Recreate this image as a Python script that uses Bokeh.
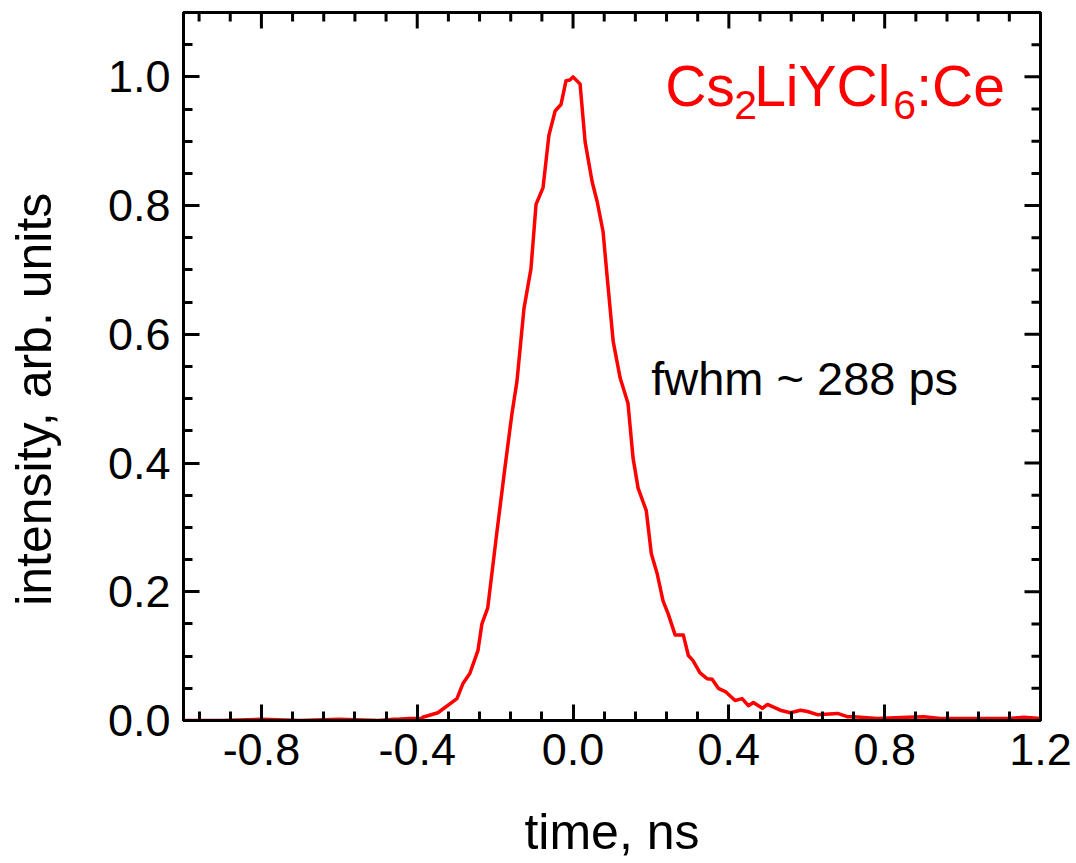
import math
from bokeh.plotting import figure
from bokeh.models import Range1d, LinearAxis, FixedTicker, CustomJSTickFormatter, Label
from bokeh.embed import file_html
from bokeh.resources import INLINE

time_ns = [-1.0, -0.90, -0.80, -0.70, -0.60, -0.50, -0.46, -0.45, -0.42, -0.39,
           -0.386, -0.347, -0.298, -0.283, -0.265, -0.244, -0.234, -0.219, -0.195, -0.175,
           -0.157, -0.144, -0.126, -0.108, -0.095, -0.077, -0.062, -0.046, -0.031, -0.018,
           -0.008, 0.0, 0.018, 0.031, 0.049, 0.062, 0.077, 0.087, 0.103, 0.121,
           0.141, 0.154, 0.167, 0.188, 0.201, 0.216, 0.231, 0.244, 0.262, 0.283,
           0.296, 0.308, 0.326, 0.344, 0.357, 0.373, 0.391, 0.416, 0.434, 0.450,
           0.463, 0.486, 0.499, 0.532, 0.558, 0.584, 0.602, 0.627, 0.679, 0.704,
           0.720, 0.781, 0.859, 0.900, 0.943, 1.028, 1.116, 1.157, 1.200]
intensity = [0.0, 0.0, 0.002, 0.0, 0.002, 0.0, 0.002, 0.002, 0.003, 0.003,
             0.005, 0.012, 0.034, 0.057, 0.073, 0.109, 0.150, 0.175, 0.295, 0.392,
             0.476, 0.527, 0.640, 0.702, 0.802, 0.828, 0.909, 0.947, 0.957, 0.994,
             0.995, 1.0, 0.989, 0.899, 0.837, 0.806, 0.760, 0.693, 0.589, 0.532,
             0.493, 0.408, 0.361, 0.326, 0.259, 0.228, 0.186, 0.166, 0.133, 0.133,
             0.101, 0.093, 0.074, 0.065, 0.064, 0.050, 0.045, 0.031, 0.034, 0.023,
             0.028, 0.019, 0.025, 0.016, 0.012, 0.016, 0.014, 0.009, 0.011, 0.006,
             0.006, 0.003, 0.005, 0.006, 0.003, 0.003, 0.003, 0.005, 0.003]

x_ticks = [-0.8, -0.4, 0.0, 0.4, 0.8, 1.2]
y_ticks = [0.0, 0.2, 0.4, 0.6, 0.8, 1.0]
x_label = "time, ns"
y_label = "intensity, arb. units"
annotation = "fwhm ~ 288 ps"
formula_parts = ["Cs", "2", "LiYCl", "6", ":Ce"]

X0, X1 = -1.0, 1.2
Y0, Y1 = 0.0, 1.1
x_minor = [round(-1.2 + 0.08 * i, 4) for i in range(31)]
x_minor = [v for v in x_minor if X0 - 1e-9 <= v <= X1 + 1e-9 and all(abs(v - t) > 1e-6 for t in x_ticks)]
y_minor = [round(0.05 * i, 4) for i in range(23)]
y_minor = [v for v in y_minor if all(abs(v - t) > 1e-6 for t in y_ticks)]

FONT = "Liberation Sans"

p = figure(width=1072, height=863, output_backend="svg", toolbar_location=None,
           x_range=Range1d(X0, X1), y_range=Range1d(Y0, Y1),
           min_border_left=183, min_border_right=32, min_border_top=12, min_border_bottom=143,
           x_axis_location=None, y_axis_location=None)
p.grid.visible = False
p.outline_line_color = "black"
p.outline_line_width = 3
p.outline_line_alpha = 1.0
p.background_fill_color = "white"
p.border_fill_color = "white"

fmt = CustomJSTickFormatter(code="return (Math.abs(tick) < 1e-9 ? 0 : tick).toFixed(1);")

def style_axis(ax, title):
    ax.formatter = fmt
    ax.axis_line_width = 3
    ax.major_tick_line_width = 3
    ax.minor_tick_line_width = 3
    ax.major_tick_in = 16
    ax.major_tick_out = 0
    ax.minor_tick_in = 9
    ax.minor_tick_out = 0
    ax.major_label_text_font = FONT
    ax.major_label_text_font_size = "45px"
    ax.major_label_text_color = "black"
    ax.major_label_text_line_height = 1.0
    ax.axis_label = title
    ax.axis_label_text_font = FONT
    ax.axis_label_text_font_size = "50px"
    ax.axis_label_text_font_style = "normal"
    ax.axis_label_text_color = "black"
    ax.axis_label_text_line_height = 1.0

xb = LinearAxis(ticker=FixedTicker(ticks=x_ticks, minor_ticks=x_minor))
style_axis(xb, x_label)
xb.major_label_standoff = 13
xb.axis_label_standoff = 36
p.add_layout(xb, "below")

# the reference's y title sits slightly below the frame centre: pad its end with no-break spaces
yl = LinearAxis(ticker=FixedTicker(ticks=y_ticks, minor_ticks=y_minor))
style_axis(yl, y_label + "\u00a0" * 4 + "\u2009")
yl.major_label_standoff = 13
yl.axis_label_standoff = 43
p.add_layout(yl, "left")

# mirrored inward ticks on the top and right edges
p.ray(x=x_ticks, y=Y1, length=16, length_units="screen", angle=-math.pi / 2,
      line_color="black", line_width=3)
p.ray(x=x_minor, y=Y1, length=9, length_units="screen", angle=-math.pi / 2,
      line_color="black", line_width=3)
p.ray(x=X1, y=y_ticks, length=16, length_units="screen", angle=math.pi,
      line_color="black", line_width=3)
p.ray(x=X1, y=y_minor, length=9, length_units="screen", angle=math.pi,
      line_color="black", line_width=3)

p.line(time_ns, intensity, line_color="#ff0000", line_width=3.5, line_join="round")

p.add_layout(Label(x=0.2005, y=0.531, text=annotation, text_font=FONT,
                   text_font_size="47px", text_color="black", text_baseline="alphabetic"))

# formula with subscripts
fx = 0.2365
base_y = 0.986
sub_y = 0.956
offsets = [0, 69, 89, 228, 251]
sizes = ["57px", "41px", "57px", "41px", "57px"]
ys = [base_y, sub_y, base_y, sub_y, base_y]
for t, off, fs, yy in zip(formula_parts, offsets, sizes, ys):
    p.add_layout(Label(x=fx, y=yy, x_offset=off, text=t, text_font=FONT,
                       text_font_size=fs, text_color="#ff0000", text_baseline="alphabetic"))

open("out.html", "w").write(file_html(p, INLINE))
